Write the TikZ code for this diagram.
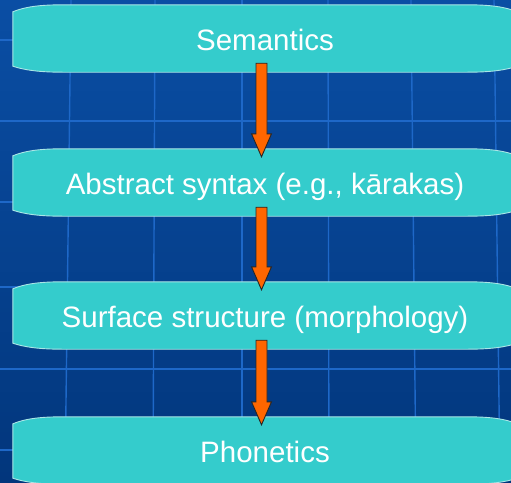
\documentclass[tikz,border=0pt]{standalone}
\usepackage{fontspec}
\setmainfont{Liberation Sans}
\usetikzlibrary{calc}
\pgfdeclarelayer{bgzero}
\pgfdeclarelayer{background}
\pgfsetlayers{bgzero,background,main}
\definecolor{bgtop}{RGB}{10,78,164}
\definecolor{bgbot}{RGB}{2,54,124}
\definecolor{gridblue}{RGB}{30,104,200}
\definecolor{boxfill}{RGB}{52,204,204}
\definecolor{boxedge}{RGB}{170,230,230}
\definecolor{arroworange}{RGB}{255,102,0}
\tikzset{
  scrollbox/.style={rectangle, minimum width=504pt, minimum height=67pt, inner sep=0pt,
    text height=24pt, text depth=0pt, text=white, font=\fontsize{29.5}{32}\selectfont},
  boxshape/.style={fill=boxfill, draw=boxedge, line width=0.9pt},
  gridline/.style={draw=gridblue, line width=1.4pt},
  blockarrow/.style={fill=arroworange, draw=black!85, line width=0.9pt, line join=miter}
}
\newcommand{\scrollshape}[1]{%
  \path[boxshape] ([yshift=-7pt]#1.north west)
    .. controls ([xshift=12pt,yshift=-2pt]#1.north west) and ([xshift=27pt]#1.north west) .. ([xshift=50pt]#1.north west)
    -- ([xshift=-50pt]#1.north east)
    .. controls ([xshift=-27pt]#1.north east) and ([xshift=-12pt,yshift=-2pt]#1.north east) .. ([yshift=-7pt]#1.north east)
    -- ([yshift=6pt]#1.south east)
    .. controls ([xshift=-12pt,yshift=2pt]#1.south east) and ([xshift=-27pt]#1.south east) .. ([xshift=-50pt]#1.south east)
    -- ([xshift=50pt]#1.south west)
    .. controls ([xshift=27pt]#1.south west) and ([xshift=12pt,yshift=2pt]#1.south west) .. ([yshift=6pt]#1.south west)
    -- cycle;}
\newcommand{\blockarr}[2]{%
  \path[blockarrow] let \p1=([xshift=-3.5pt,yshift=9pt]#1.south), \p2=([xshift=-3.5pt,yshift=-8pt]#2.north) in
    (\x1-5.5pt,\y1) -- (\x1+5.5pt,\y1) -- (\x1+5.5pt,\y2+23pt) -- (\x1+10pt,\y2+23pt)
    -- (\x1,\y2) -- (\x1-10pt,\y2+23pt) -- (\x1-5.5pt,\y2+23pt) -- cycle;}
\begin{document}
\begin{tikzpicture}[x=1pt,y=-1pt]
\useasboundingbox (0,0) rectangle (511,482);
\begin{pgfonlayer}{bgzero}
  \shade[top color=bgtop, bottom color=bgbot] (0,0) rectangle (511,482);
  \foreach \yy in {40,121,202,287,369,450} \draw[gridline] (0,\yy) -- (511,\yy);
  \foreach \xa/\xb in {71/65,155/153,242/242,328/329,411/416,494/500} \draw[gridline] (\xa,0) -- (\xb,482);
\end{pgfonlayer}
\node[scrollbox] (sem) at (265,38.5) {Semantics};
\node[scrollbox] (abs) at (265,182.5) {Abstract syntax (e.g., kārakas)};
\node[scrollbox] (sur) at (265,315.5) {Surface structure (morphology)};
\node[scrollbox] (pho) at (265,450.5) {Phonetics};
\begin{pgfonlayer}{background}
  \scrollshape{sem}
  \scrollshape{abs}
  \scrollshape{sur}
  \scrollshape{pho}
\end{pgfonlayer}
\blockarr{sem}{abs}
\blockarr{abs}{sur}
\blockarr{sur}{pho}
\end{tikzpicture}
\end{document}
